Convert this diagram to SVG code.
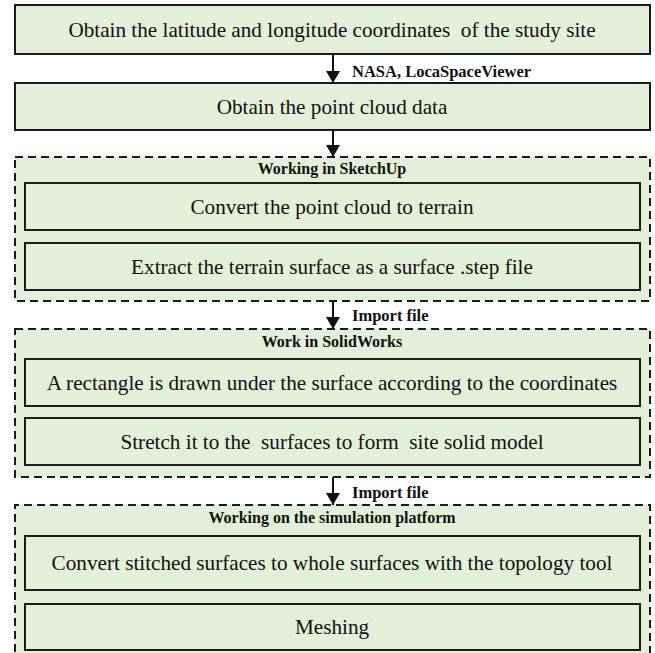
<svg xmlns="http://www.w3.org/2000/svg" width="655" height="653" viewBox="0 0 655 653">
<style>
.box{fill:#e2efd9;stroke:#1a1a1a;stroke-width:2}
.grp{fill:#e2efd9;stroke:#1a1a1a;stroke-width:2;stroke-dasharray:8 5}
.t{font-family:'Liberation Serif','DejaVu Serif',serif;font-size:21.2px;fill:#111;text-anchor:middle;white-space:pre}
.h{font-family:'Liberation Serif','DejaVu Serif',serif;font-size:16px;font-weight:bold;fill:#111;text-anchor:middle}
.l{font-family:'Liberation Serif','DejaVu Serif',serif;font-size:16.5px;font-weight:bold;fill:#111}
.c{stroke:#111;stroke-width:2;fill:none}
</style>
<defs>
<marker id="ah" viewBox="0 0 12 14" refX="12" refY="7" markerWidth="12" markerHeight="14" markerUnits="userSpaceOnUse" orient="auto">
<path d="M0,0 L12,7 L0,14 Z" fill="#111"/>
</marker>
</defs>
<g id="node1"><rect class="box" x="15" y="5" width="635" height="49"/><text class="t" x="332" y="37" xml:space="preserve">Obtain the latitude and longitude coordinates  of the study site</text></g>
<g id="node2"><rect class="box" x="15" y="83" width="635" height="47"/><text class="t" x="332" y="114">Obtain the point cloud data</text></g>
<g id="group1"><rect class="grp" x="15" y="157" width="635" height="144"/><text class="h" x="332" y="174">Working in SketchUp</text></g>
<g id="node3"><rect class="box" x="25" y="183" width="615" height="47"/><text class="t" x="332" y="214">Convert the point cloud to terrain</text></g>
<g id="node4"><rect class="box" x="25" y="243" width="615" height="47"/><text class="t" x="332" y="274">Extract the terrain surface as a surface .step file</text></g>
<g id="group2"><rect class="grp" x="15" y="329" width="635" height="148"/><text class="h" x="332" y="347">Work in SolidWorks</text></g>
<g id="node5"><rect class="box" x="25" y="359" width="615" height="47"/><text class="t" x="332" y="390">A rectangle is drawn under the surface according to the coordinates</text></g>
<g id="node6"><rect class="box" x="25" y="418" width="615" height="47"/><text class="t" x="332" y="449" xml:space="preserve">Stretch it to the  surfaces to form  site solid model</text></g>
<g id="group3"><path class="grp" d="M15,665 L15,505 L650,505 L650,665"/><text class="h" x="332" y="523">Working on the simulation platform</text></g>
<g id="node7"><rect class="box" x="25" y="536" width="615" height="54"/><text class="t" x="332" y="570">Convert stitched surfaces to whole surfaces with the topology tool</text></g>
<g id="node8"><rect class="box" x="25" y="604" width="615" height="46"/><text class="t" x="332" y="634">Meshing</text></g>
<g id="connectors">
<line class="c" x1="333" y1="54" x2="333" y2="83" marker-end="url(#ah)"/>
<text class="l" x="352" y="77">NASA, LocaSpaceViewer</text>
<line class="c" x1="333" y1="130" x2="333" y2="157" marker-end="url(#ah)"/>
<line class="c" x1="333" y1="301" x2="333" y2="329" marker-end="url(#ah)"/>
<text class="l" x="352" y="321">Import file</text>
<line class="c" x1="333" y1="477" x2="333" y2="505" marker-end="url(#ah)"/>
<text class="l" x="352" y="498">Import file</text>
</g>
</svg>
